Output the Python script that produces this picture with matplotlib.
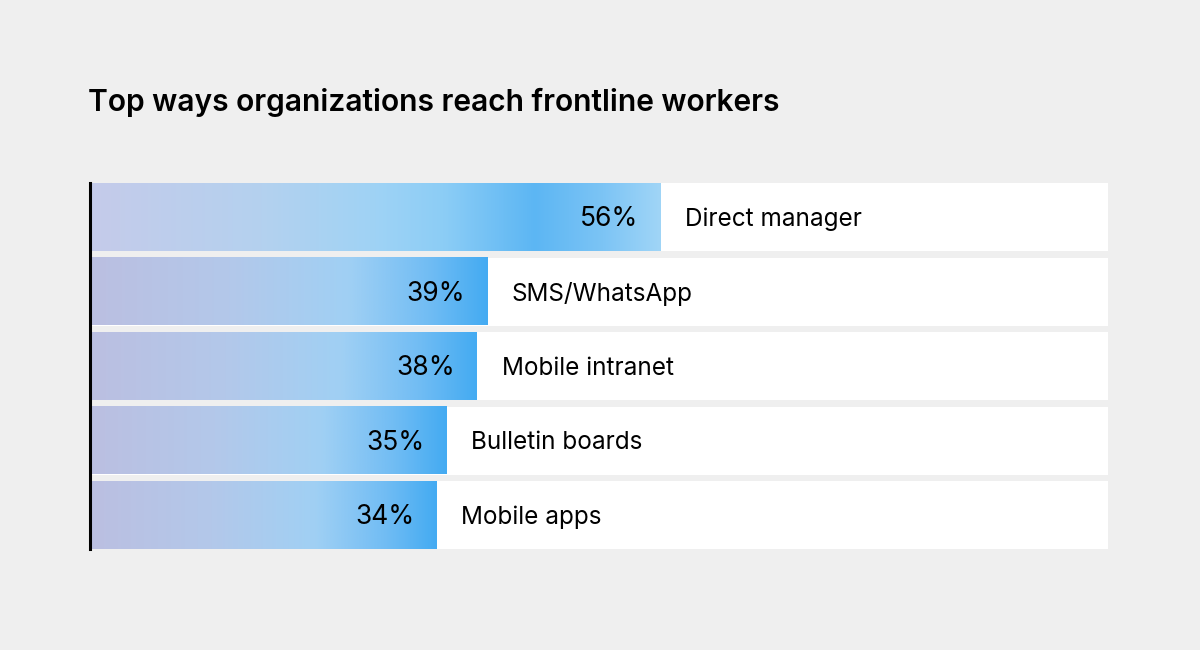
import numpy as np
import matplotlib
matplotlib.use("Agg")
import matplotlib.pyplot as plt
from matplotlib.colors import LinearSegmentedColormap

categories = ["Direct manager", "SMS/WhatsApp", "Mobile intranet", "Bulletin boards", "Mobile apps"]
values = [56, 39, 38, 35, 34]
title = "Top ways organizations reach frontline workers"

BG = "#efefef"
plt.rcParams['font.family'] = ['Inter', 'DejaVu Sans']

fig = plt.figure(figsize=(12, 6.5), dpi=100, facecolor=BG)
ax = fig.add_axes([90/1200, 1 - 549/650, 1018/1200, 366/650])
ax.set_facecolor(BG)

n = len(categories)
pitch = 74.5
h = 68 / pitch
half = h / 2

cmap_lower = LinearSegmentedColormap.from_list("g", [
    (0.0, "#bbbfe1"), (0.35, "#b3c8ea"), (0.65, "#a0d0f4"), (0.85, "#72bdf4"), (1.0, "#44abf2")])
cmap_top = LinearSegmentedColormap.from_list("t", [
    (0.0, "#c5cbea"), (0.3, "#b4d1ef"), (0.5, "#9fd3f5"), (0.62, "#8ccdf6"),
    (0.78, "#5cb6f3"), (0.9, "#7cc4f5"), (1.0, "#a0d5f7")])

grad = np.linspace(0, 1, 256).reshape(1, -1)
for i, (cat, v) in enumerate(zip(categories, values)):
    y0 = i - half
    y1 = i + half
    ax.barh(i, 100, height=h, color="white", zorder=1)
    cm = cmap_top if i == 0 else cmap_lower
    ax.imshow(grad, cmap=cm, extent=[0, v, y1, y0], aspect="auto", zorder=2, interpolation="bicubic")
    ax.text(v - 2.15, i + 0.03, f"{v}%", ha="right", va="center", fontsize=19, color="black", zorder=3)
    ax.text(v + 2.45, i + 0.03, cat, ha="left", va="center", fontsize=17.5, color="black", zorder=3)

ax.set_xlim(0, 100)
ax.set_ylim(n - 1 + half, -half)
for s in ["top", "right", "bottom"]:
    ax.spines[s].set_visible(False)
ax.spines["left"].set_linewidth(2.2)
ax.spines["left"].set_color("black")
ax.spines["left"].set_zorder(5)
ax.set_xticks([])
ax.set_yticks([])

fig.text(88/1200, 1 - 102/650, title, fontsize=21.6, fontweight="semibold", ha="left", va="center", color="black")

fig.savefig("out.png", dpi=100, facecolor=BG)
